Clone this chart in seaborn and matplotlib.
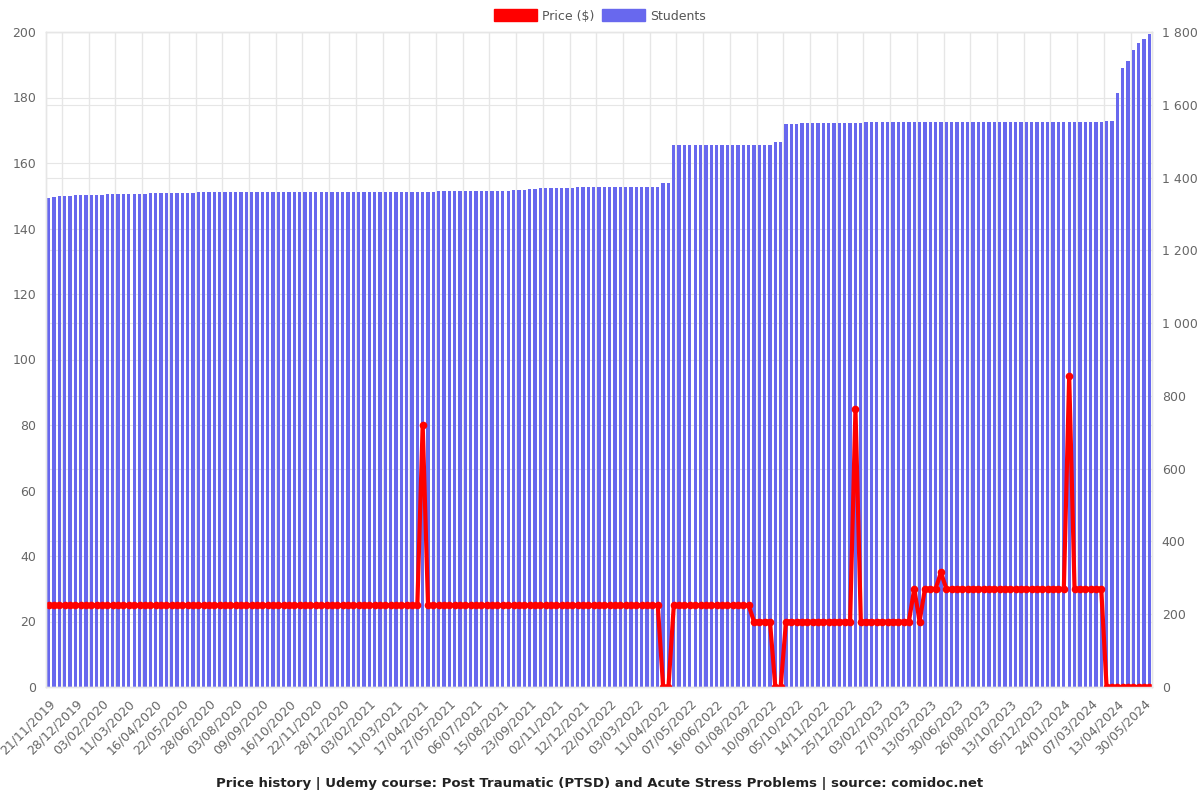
import numpy as np
import pandas as pd
import matplotlib
matplotlib.use("Agg")
import matplotlib.pyplot as plt
import seaborn as sns
from matplotlib.patches import Patch
from matplotlib.ticker import FixedLocator, FuncFormatter

# ---------------- data ----------------
tick_labels = [
    "21/11/2019", "28/12/2019", "03/02/2020", "11/03/2020", "16/04/2020", "22/05/2020",
    "28/06/2020", "03/08/2020", "09/09/2020", "16/10/2020", "22/11/2020", "28/12/2020",
    "03/02/2021", "11/03/2021", "17/04/2021", "27/05/2021", "06/07/2021", "15/08/2021",
    "23/09/2021", "02/11/2021", "12/12/2021", "22/01/2022", "03/03/2022", "11/04/2022",
    "07/05/2022", "16/06/2022", "01/08/2022", "10/09/2022", "05/10/2022", "14/11/2022",
    "25/12/2022", "03/02/2023", "27/03/2023", "13/05/2023", "30/06/2023", "26/08/2023",
    "13/10/2023", "05/12/2023", "24/01/2024", "07/03/2024", "13/04/2024", "30/05/2024",
]

price = [
    25, 25, 25, 25, 25, 25, 25, 25, 25, 25,
    25, 25, 25, 25, 25, 25, 25, 25, 25, 25,
    25, 25, 25, 25, 25, 25, 25, 25, 25, 25,
    25, 25, 25, 25, 25, 25, 25, 25, 25, 25,
    25, 25, 25, 25, 25, 25, 25, 25, 25, 25,
    25, 25, 25, 25, 25, 25, 25, 25, 25, 25,
    25, 25, 25, 25, 25, 25, 25, 25, 25, 25,
    80, 25, 25, 25, 25, 25, 25, 25, 25, 25,
    25, 25, 25, 25, 25, 25, 25, 25, 25, 25,
    25, 25, 25, 25, 25, 25, 25, 25, 25, 25,
    25, 25, 25, 25, 25, 25, 25, 25, 25, 25,
    25, 25, 25, 25, 25, 0, 0, 25, 25, 25,
    25, 25, 25, 25, 25, 25, 25, 25, 25, 25,
    25, 25, 20, 20, 20, 20, 0, 0, 20, 20,
    20, 20, 20, 20, 20, 20, 20, 20, 20, 20,
    20, 85, 20, 20, 20, 20, 20, 20, 20, 20,
    20, 20, 30, 20, 30, 30, 30, 35, 30, 30,
    30, 30, 30, 30, 30, 30, 30, 30, 30, 30,
    30, 30, 30, 30, 30, 30, 30, 30, 30, 30,
    30, 95, 30, 30, 30, 30, 30, 30, 0, 0,
    0, 0, 0, 0, 0, 0, 0,
]

students = [
    1344, 1347, 1349, 1350, 1350, 1352, 1352, 1352, 1352, 1352,
    1352, 1354, 1354, 1354, 1354, 1354, 1355, 1355, 1355, 1357,
    1357, 1357, 1357, 1357, 1357, 1357, 1358, 1358, 1359, 1359,
    1360, 1360, 1360, 1360, 1360, 1360, 1360, 1360, 1360, 1360,
    1360, 1360, 1360, 1360, 1360, 1360, 1360, 1360, 1360, 1360,
    1360, 1360, 1360, 1360, 1360, 1360, 1360, 1360, 1360, 1360,
    1360, 1360, 1360, 1361, 1361, 1361, 1361, 1361, 1361, 1361,
    1361, 1361, 1361, 1362, 1362, 1362, 1362, 1362, 1362, 1362,
    1362, 1362, 1362, 1362, 1362, 1364, 1364, 1365, 1366, 1366,
    1368, 1369, 1371, 1371, 1372, 1372, 1372, 1372, 1372, 1373,
    1373, 1373, 1373, 1373, 1373, 1373, 1374, 1374, 1374, 1374,
    1374, 1374, 1374, 1374, 1374, 1384, 1384, 1489, 1489, 1489,
    1489, 1489, 1489, 1489, 1489, 1489, 1490, 1490, 1490, 1490,
    1490, 1490, 1490, 1490, 1490, 1490, 1498, 1498, 1546, 1546,
    1546, 1549, 1549, 1549, 1549, 1549, 1549, 1549, 1549, 1549,
    1550, 1550, 1550, 1552, 1552, 1553, 1553, 1553, 1553, 1553,
    1553, 1553, 1553, 1553, 1553, 1553, 1553, 1553, 1553, 1553,
    1553, 1553, 1553, 1553, 1553, 1553, 1553, 1553, 1553, 1553,
    1553, 1553, 1553, 1553, 1553, 1553, 1553, 1553, 1553, 1553,
    1553, 1553, 1553, 1553, 1553, 1553, 1553, 1553, 1556, 1556,
    1631, 1702, 1720, 1750, 1770, 1782, 1795,
]

title = ("Price history | Udemy course: Post Traumatic (PTSD) and Acute Stress Problems"
         " | source: comidoc.net")

# ---------------- styling ----------------
BLUE = "#6868EE"
RED = "#FF0000"
GRID = "#E6E6E6"
TXT = "#666666"

sns.set_theme(style="white")
plt.rcParams["font.family"] = ["DejaVu Sans"]

n = len(price)
pos = np.arange(n)
df = pd.DataFrame({"pos": pos, "price": price, "students": students})

fig = plt.figure(figsize=(12, 8), dpi=100)
ax = fig.add_axes([46 / 1200, 113 / 800, 1106 / 1200, 655 / 800])

# students bars (right-hand scale) on the lower axes
sns.barplot(data=df, x="pos", y="students", ax=ax, color=BLUE, saturation=1,
            width=0.62, errorbar=None, linewidth=0)

ax2 = ax.twinx()
sns.lineplot(data=df, x="pos", y="price", ax=ax2, color=RED, linewidth=3,
             marker="o", markersize=5.5, markeredgecolor=RED, markeredgewidth=0,
             legend=False)

# x axis
ax.set_xlim(-0.5, n - 0.5)
label_pos = [i * 5 for i in range(len(tick_labels))]
ax.xaxis.set_major_locator(FixedLocator(label_pos))
ax.set_xticklabels(tick_labels, rotation=45, ha="right", rotation_mode="anchor",
                   fontsize=9, color=TXT)
grid_x = [2.5 + 5 * k for k in range(len(tick_labels) - 1)]
ax.xaxis.set_minor_locator(FixedLocator(grid_x))
ax.tick_params(axis="x", which="major", length=0, pad=7)
ax.tick_params(axis="x", which="minor", length=8, color=GRID, width=1)
ax.grid(axis="x", which="minor", color=GRID, linewidth=1)
ax.set_xlabel("")

# students axis on the right
ax.set_ylim(0, 1800)
ax.yaxis.tick_right()
ax.yaxis.set_label_position("right")
ax.set_yticks(range(0, 1801, 200))
ax.yaxis.set_major_formatter(FuncFormatter(lambda v, p: f"{int(v):,}".replace(",", " ")))
ax.tick_params(axis="y", which="major", length=0, pad=7, labelsize=9, labelcolor=TXT)
ax.grid(axis="y", which="major", color=GRID, linewidth=0.8)
# price grid drawn on the bar axes so it stays behind the bars
ax.yaxis.set_minor_locator(FixedLocator([v * 9 for v in range(0, 201, 20)]))
ax.tick_params(axis="y", which="minor", length=0)
ax.grid(axis="y", which="minor", color=GRID, linewidth=0.8)
ax.set_ylabel("")
ax.set_axisbelow(True)

# price axis on the left
ax2.set_ylim(0, 200)
ax2.yaxis.tick_left()
ax2.yaxis.set_label_position("left")
ax2.set_yticks(range(0, 201, 20))
ax2.tick_params(axis="y", length=0, pad=7, labelsize=9, labelcolor=TXT)
ax2.set_ylabel("")
ax2.grid(False)

for a in (ax, ax2):
    for s in a.spines.values():
        s.set_color(GRID)
        s.set_linewidth(1)

# legend
handles = [Patch(facecolor=RED, edgecolor=RED), Patch(facecolor=BLUE, edgecolor=BLUE)]
fig.legend(handles, ["Price ($)", "Students"], loc="center", bbox_to_anchor=(0.5, 1 - 16 / 800),
           ncol=2, frameon=False, fontsize=9, handlelength=3.4, handleheight=1.1,
           handletextpad=0.45, columnspacing=0.6, labelcolor="#555555")

fig.text(0.5, 1 - 783 / 800, title, ha="center", va="center", fontsize=9.5,
         fontweight="bold", color="#222222")

fig.savefig("out.png", dpi=100)
